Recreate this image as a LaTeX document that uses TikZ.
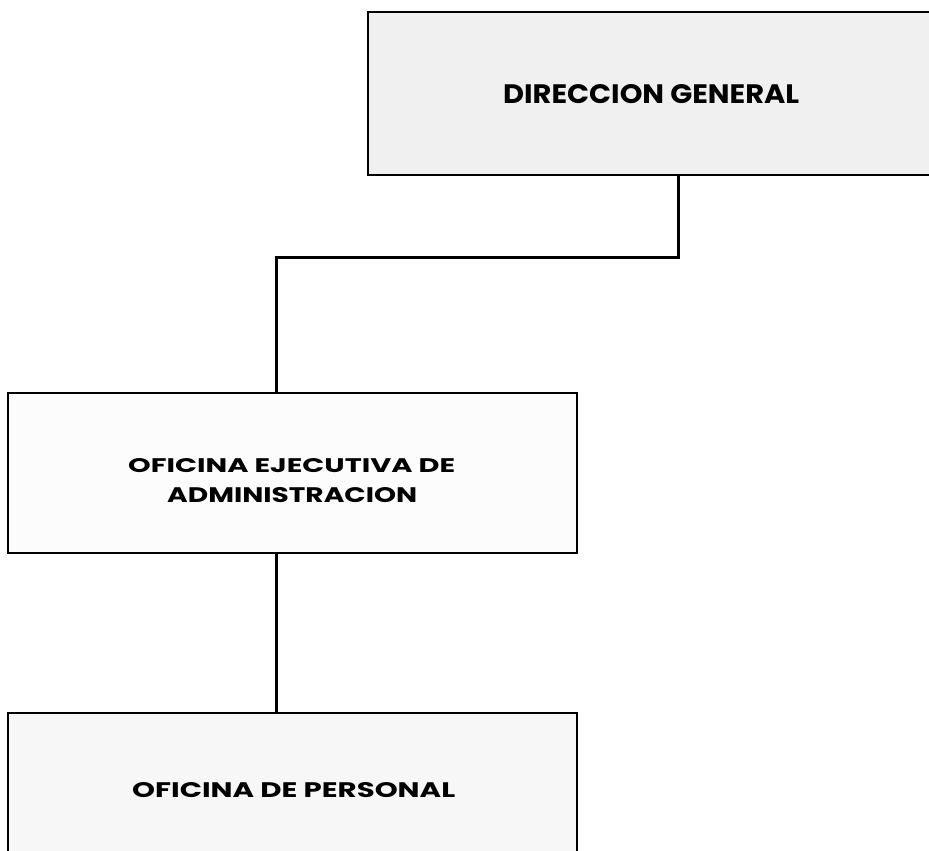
\documentclass[tikz,border=0pt]{standalone}
\usepackage{fontspec}
\setmainfont{Poppins}
\usepackage{graphicx}
\begin{document}
\begin{tikzpicture}[x=1pt,y=1pt,
  orgbox/.style={draw=black, line width=1.8pt, rectangle, inner sep=0pt},
  lbl/.style={inner sep=0pt, anchor=base west, text=black},
  conn/.style={draw=black, line width=3pt}]
\useasboundingbox (0,0) rectangle (929,-851);
\clip (0,0) rectangle (929,-851);
% boxes
\node[orgbox, fill=black!6, minimum width=572pt, minimum height=163pt] (dg) at (654,-93.5) {};
\node[orgbox, fill=black!1, minimum width=569pt, minimum height=160pt] (oea) at (292.5,-473) {};
\node[orgbox, fill=black!3, minimum width=569pt, minimum height=160pt] (op) at (292.5,-793) {};
% texts
\node[lbl] (tdg) at (503,-103) {\resizebox{296pt}{19pt}{\bfseries DIRECCION GENERAL}};
\node[lbl] (toea1) at (128,-472) {\resizebox{327pt}{14pt}{\bfseries OFICINA EJECUTIVA DE}};
\node[lbl] (toea2) at (167,-502) {\resizebox{250pt}{15pt}{\bfseries ADMINISTRACION}};
\node[lbl] (top) at (132,-797) {\resizebox{323pt}{15pt}{\bfseries OFICINA DE PERSONAL}};
% connectors
\coordinate (j1) at (678,-257);
\coordinate (j2) at (276,-257);
\draw[conn] (dg.south -| j1) -- (j1) -- (j2) -- (oea.north -| j2);
\draw[conn] (oea.south -| j2) -- (op.north -| j2);
\end{tikzpicture}
\end{document}
